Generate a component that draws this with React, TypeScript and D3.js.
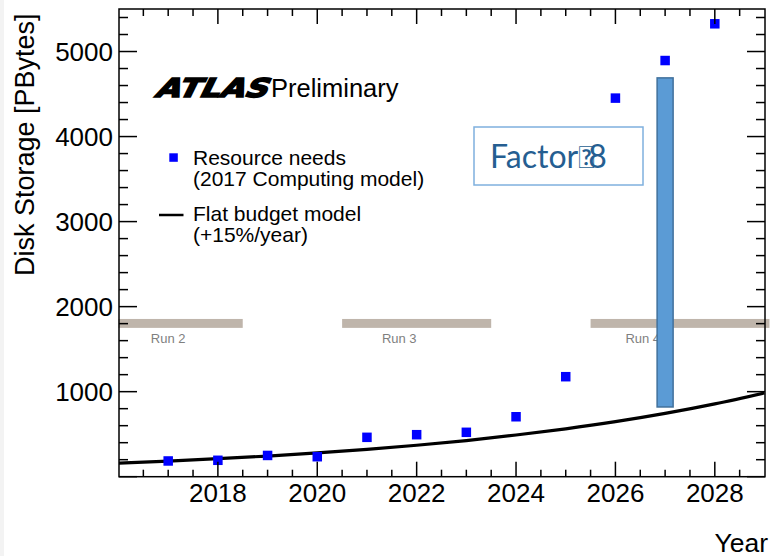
import React from 'react';
import * as d3 from 'd3';

const years = [2017, 2018, 2019, 2020, 2021, 2022, 2023, 2024, 2025, 2026, 2027, 2028];
const resourceNeeds = [185, 193, 250, 235, 463, 494, 522, 705, 1176, 4452, 4894, 5326];
const budgetYears = [2016, 2017, 2018, 2019, 2020, 2021, 2022, 2023, 2024, 2025, 2026, 2027, 2028, 2029];
const flatBudget = [160, 184, 212, 243, 280, 322, 370, 425, 490, 563, 647, 744, 856, 985];
const xTickLabels = [2018, 2020, 2022, 2024, 2026, 2028];
const yTickLabels = [1000, 2000, 3000, 4000, 5000];
const runNames = ['Run 2', 'Run 3', 'Run 4'];
const runStarts = [2016, 2020.5, 2025.5];
const runEnds = [2018.5, 2023.5, 2029.1];
const runLabelYears = [2017, 2021.65, 2026.55];
const runBand = [1750, 1855];
const factorYear = 2027;
const factorRange = [820, 4690];
const factorParts = ['Factor', '\uF0BB', '8'];
const legendLabels = ['Resource needs', '(2017 Computing model)', 'Flat budget model', '(+15%/year)'];

const W = 771;
const H = 556;
const L = 119;
const R = 765;
const T = 9;
const B = 476.7;
const SANS = '"Liberation Sans", Arial, Helvetica, sans-serif';

export default function App() {
  const x = d3.scaleLinear().domain([2016, 2029]).range([118.5, 764.5]);
  const y = d3.scaleLinear().domain([0, 5500]).range([B, T]);

  const xTicks = d3.range(2016, 2029.001, 0.5);
  const yTicks = d3.range(0, 5500.001, 200);

  const line = d3
    .line<number>()
    .x((d, i) => x(budgetYears[i]))
    .y((d) => y(d))
    .curve(d3.curveMonotoneX);

  const sq = 9.5;

  return (
    <svg
      width={W}
      height={H}
      style={{ position: 'absolute', left: 0, top: 0, background: '#fff' }}
    >
      <defs>
        <clipPath id="plotclip">
          <rect x={L} y={T} width={R - L} height={B - T} />
        </clipPath>
      </defs>
      <rect x={0} y={0} width={W} height={H} fill="#fff" />
      <rect x={0} y={0} width={4} height={H} fill="#f3f3f3" />

      {/* run bands */}
      {runNames.map((n, i) => (
        <g key={n}>
          <rect
            x={x(runStarts[i])}
            y={y(runBand[1])}
            width={x(runEnds[i]) - x(runStarts[i])}
            height={y(runBand[0]) - y(runBand[1])}
            fill="#bfb5ab"
          />
          <text
            x={x(runLabelYears[i])}
            y={y(runBand[0]) + 15}
            fontFamily={SANS}
            fontSize={13}
            fill="#7f7f7f"
            textAnchor="middle"
          >
            {n}
          </text>
        </g>
      ))}

      {/* flat budget line */}
      <path
        d={line(flatBudget) || ''}
        fill="none"
        stroke="#000"
        strokeWidth={3.2}
        clipPath="url(#plotclip)"
      />

      {/* resource needs */}
      {years.map((yr, i) => (
        <rect
          key={yr}
          x={x(yr) - sq / 2}
          y={y(resourceNeeds[i]) - sq / 2}
          width={sq}
          height={sq}
          fill="#0000ff"
        />
      ))}

      {/* factor bar */}
      <rect
        x={x(factorYear) - 8}
        y={y(factorRange[1])}
        width={16}
        height={y(factorRange[0]) - y(factorRange[1])}
        fill="#5b9bd5"
        stroke="#41719c"
        strokeWidth={1.5}
      />

      {/* factor box */}
      <rect x={474} y={127} width={169} height={58} fill="#fff" stroke="#7fb0de" strokeWidth={1.5} />
      <text x={490} y={168} fontFamily='Lato, "Open Sans", sans-serif' fontSize={32} fill="#255e91">
        <tspan>{factorParts[0]}</tspan>
        <tspan fontSize={30}>{factorParts[1]}</tspan>
        <tspan dx={-6}>{factorParts[2]}</tspan>
      </text>

      {/* frame ticks */}
      <g stroke="#000" strokeWidth={1.5}>
        {xTicks.map((t) => {
          const major = Math.abs(t % 2) < 1e-6;
          const len = major ? 15 : 7;
          const px = x(t);
          if (px < L + 1 || px > R - 1) return null;
          return (
            <g key={'xt' + t}>
              <line x1={px} x2={px} y1={B} y2={B - len} />
              <line x1={px} x2={px} y1={T} y2={T + len} />
            </g>
          );
        })}
        {yTicks.map((t) => {
          const major = Math.abs(t % 1000) < 1e-6;
          const len = major ? 18 : 9;
          const py = y(t);
          return (
            <g key={'yt' + t}>
              <line x1={L} x2={L + len} y1={py} y2={py} />
              <line x1={R} x2={R - len} y1={py} y2={py} />
            </g>
          );
        })}
        <rect x={L} y={T} width={R - L} height={B - T} fill="none" />
      </g>

      {/* tick labels */}
      {xTickLabels.map((t) => (
        <text key={'xl' + t} x={x(t)} y={501.5} fontFamily={SANS} fontSize={26} textAnchor="middle">
          {t}
        </text>
      ))}
      {yTickLabels.map((t) => (
        <text
          key={'yl' + t}
          x={113}
          y={y(t) + 9.3}
          fontFamily={SANS}
          fontSize={26}
          textAnchor="end"
        >
          {t}
        </text>
      ))}

      {/* axis titles */}
      <text x={768} y={551.5} fontFamily={SANS} fontSize={26.5} textAnchor="end">
        Year
      </text>
      <text
        transform="translate(34,276) rotate(-90)"
        fontFamily={SANS}
        fontSize={27}
        textAnchor="start"
      >
        Disk Storage [PBytes]
      </text>

      {/* ATLAS Preliminary */}
      <g transform="translate(154,97) skewX(-26)">
        <text
          x={0}
          y={0}
          fontFamily='"DejaVu Sans", sans-serif'
          fontWeight="bold"
          fontSize={26}
          textLength={112}
          lengthAdjust="spacingAndGlyphs"
          stroke="#000"
          strokeWidth={1.6}
          strokeLinejoin="miter"
        >
          ATLAS
        </text>
      </g>
      <text x={271} y={97} fontFamily={SANS} fontSize={25.5}>
        Preliminary
      </text>

      {/* legend */}
      <rect x={169.3} y={153.3} width={8.5} height={8.5} fill="#0000ff" />
      <text x={193} y={165} fontFamily={SANS} fontSize={21}>
        {legendLabels[0]}
      </text>
      <text x={193} y={185.5} fontFamily={SANS} fontSize={21}>
        {legendLabels[1]}
      </text>
      <line x1={159} x2={183.5} y1={215} y2={215} stroke="#000" strokeWidth={2.5} />
      <text x={193} y={220.5} fontFamily={SANS} fontSize={21}>
        {legendLabels[2]}
      </text>
      <text x={193} y={241.5} fontFamily={SANS} fontSize={21}>
        {legendLabels[3]}
      </text>
    </svg>
  );
}
